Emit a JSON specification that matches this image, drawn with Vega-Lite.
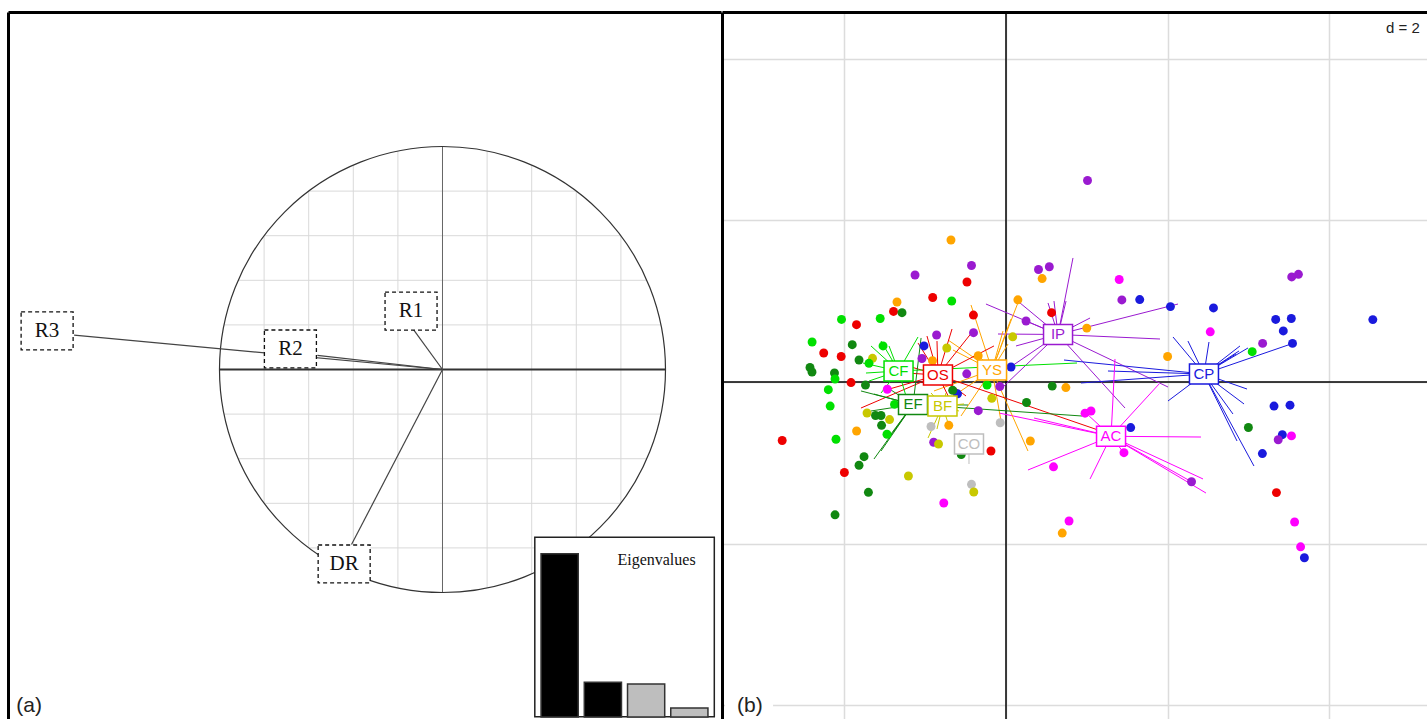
{
  "$schema": "https://vega.github.io/schema/vega-lite/v6.json",
  "padding": {"left": 8, "top": 11, "right": 0, "bottom": 0},
  "spacing": 0,
  "background": "white",
  "config": {
    "view": {"stroke": null},
    "axis": {"domain": true, "domainColor": "black", "domainWidth": 3, "ticks": false, "labels": false, "grid": false}
  },
  "resolve": {"scale": {"color": "independent", "stroke": "independent"}},
  "datasets": {
    "grid": [
      {"at": -0.8, "lo": -0.6, "hi": 0.6},
      {"at": -0.6, "lo": -0.8, "hi": 0.8},
      {"at": -0.4, "lo": -0.9165, "hi": 0.9165},
      {"at": -0.2, "lo": -0.9798, "hi": 0.9798},
      {"at": 0.2, "lo": -0.9798, "hi": 0.9798},
      {"at": 0.4, "lo": -0.9165, "hi": 0.9165},
      {"at": 0.6, "lo": -0.8, "hi": 0.8},
      {"at": 0.8, "lo": -0.6, "hi": 0.6}
    ],
    "vars": [
      {"var": "R1", "x": -0.130, "y": 0.179, "lx": -0.141, "ly": 0.262},
      {"var": "R2", "x": -0.561, "y": 0.063, "lx": -0.682, "ly": 0.092},
      {"var": "R3", "x": -1.652, "y": 0.154, "lx": -1.773, "ly": 0.173},
      {"var": "DR", "x": -0.408, "y": -0.785, "lx": -0.441, "ly": -0.872}
    ],
    "eigen": [
      {"axis": 1, "eig": 2.72, "kept": "yes"},
      {"axis": 2, "eig": 0.58, "kept": "yes"},
      {"axis": 3, "eig": 0.55, "kept": "no"},
      {"axis": 4, "eig": 0.15, "kept": "no"}
    ],
    "centroids": [
      {"grp": "CF", "x": -1.330, "y": 0.136},
      {"grp": "OS", "x": -0.842, "y": 0.087},
      {"grp": "YS", "x": -0.173, "y": 0.149},
      {"grp": "EF", "x": -1.151, "y": -0.278},
      {"grp": "BF", "x": -0.786, "y": -0.297},
      {"grp": "CO", "x": -0.458, "y": -0.767},
      {"grp": "IP", "x": 0.644, "y": 0.588},
      {"grp": "CP", "x": 2.450, "y": 0.099},
      {"grp": "AC", "x": 1.300, "y": -0.672}
    ],
    "stars": [
      {"grp": "IP", "x": 0.829, "y": 1.535}, {"grp": "IP", "x": 0.594, "y": 1.002}, {"grp": "IP", "x": 0.520, "y": 0.978},
      {"grp": "IP", "x": 0.099, "y": 1.040}, {"grp": "IP", "x": -0.248, "y": 0.965}, {"grp": "IP", "x": -0.099, "y": 0.594},
      {"grp": "IP", "x": 0.037, "y": 0.173}, {"grp": "IP", "x": -0.025, "y": -0.050}, {"grp": "IP", "x": 2.129, "y": 0.965},
      {"grp": "IP", "x": 1.040, "y": 0.792}, {"grp": "IP", "x": 1.906, "y": 0.532}, {"grp": "IP", "x": 2.005, "y": -0.062},
      {"grp": "IP", "x": 1.473, "y": -0.322}, {"grp": "IP", "x": 0.124, "y": 0.446}, {"grp": "IP", "x": 0.248, "y": 0.755},
      {"grp": "IP", "x": 0.743, "y": 1.002},
      {"grp": "CP", "x": 2.067, "y": 0.557}, {"grp": "CP", "x": 2.252, "y": 0.507}, {"grp": "CP", "x": 2.512, "y": 0.495},
      {"grp": "CP", "x": 2.995, "y": 0.421}, {"grp": "CP", "x": 2.896, "y": 0.446}, {"grp": "CP", "x": 2.884, "y": 0.384},
      {"grp": "CP", "x": 2.847, "y": 0.347}, {"grp": "CP", "x": 3.527, "y": 0.470}, {"grp": "CP", "x": 0.718, "y": 0.272},
      {"grp": "CP", "x": 1.262, "y": 0.136}, {"grp": "CP", "x": 0.928, "y": -0.012}, {"grp": "CP", "x": 2.005, "y": -0.235},
      {"grp": "CP", "x": 2.983, "y": -0.087}, {"grp": "CP", "x": 2.946, "y": -0.272}, {"grp": "CP", "x": 2.809, "y": -0.396},
      {"grp": "CP", "x": 3.069, "y": -1.040}, {"grp": "CP", "x": 2.859, "y": -0.730},
      {"grp": "AC", "x": 1.349, "y": 0.285}, {"grp": "AC", "x": 1.894, "y": -0.025}, {"grp": "AC", "x": 2.413, "y": -0.681},
      {"grp": "AC", "x": 2.438, "y": -1.200}, {"grp": "AC", "x": 2.475, "y": -1.374}, {"grp": "AC", "x": 2.302, "y": -1.238},
      {"grp": "AC", "x": 1.040, "y": -1.200}, {"grp": "AC", "x": 0.272, "y": -1.089}, {"grp": "AC", "x": -0.087, "y": -0.384},
      {"grp": "AC", "x": 0.347, "y": -0.446}, {"grp": "AC", "x": 0.990, "y": -0.384}, {"grp": "AC", "x": 1.460, "y": -0.879},
      {"grp": "YS", "x": -0.433, "y": 0.953}, {"grp": "YS", "x": -0.718, "y": 0.520}, {"grp": "YS", "x": -0.656, "y": 0.396},
      {"grp": "YS", "x": 0.025, "y": 0.470}, {"grp": "YS", "x": 0.272, "y": -0.854}, {"grp": "YS", "x": 0.062, "y": 0.780},
      {"grp": "YS", "x": -0.037, "y": 0.631}, {"grp": "YS", "x": -0.891, "y": -0.111}, {"grp": "YS", "x": -0.743, "y": -0.235},
      {"grp": "YS", "x": -0.557, "y": -0.421}, {"grp": "YS", "x": -0.334, "y": 0.322}, {"grp": "YS", "x": 0.161, "y": 1.015},
      {"grp": "YS", "x": -0.062, "y": -0.483},
      {"grp": "OS", "x": -0.668, "y": 0.656}, {"grp": "OS", "x": -0.854, "y": 0.507}, {"grp": "OS", "x": -1.089, "y": 0.483},
      {"grp": "OS", "x": -0.978, "y": 0.569}, {"grp": "OS", "x": -1.795, "y": -0.322}, {"grp": "OS", "x": -1.485, "y": -0.099},
      {"grp": "OS", "x": -0.149, "y": 0.446}, {"grp": "OS", "x": 1.139, "y": -0.594}, {"grp": "OS", "x": -0.644, "y": -0.322},
      {"grp": "OS", "x": -0.495, "y": -0.173}, {"grp": "OS", "x": -1.238, "y": 0.111}, {"grp": "OS", "x": -1.423, "y": 0.260},
      {"grp": "OS", "x": -0.408, "y": 0.631},
      {"grp": "CF", "x": -1.671, "y": 0.446}, {"grp": "CF", "x": -1.448, "y": 0.446}, {"grp": "CF", "x": -1.089, "y": 0.557},
      {"grp": "CF", "x": -1.733, "y": 0.111}, {"grp": "CF", "x": -1.696, "y": 0.012}, {"grp": "CF", "x": -1.547, "y": -0.136},
      {"grp": "CF", "x": 0.879, "y": 0.235}, {"grp": "CF", "x": -1.238, "y": -0.173}, {"grp": "CF", "x": -1.770, "y": 0.235},
      {"grp": "CF", "x": -1.547, "y": 0.507},
      {"grp": "EF", "x": -1.634, "y": -0.953}, {"grp": "EF", "x": -1.547, "y": -0.854}, {"grp": "EF", "x": -1.460, "y": -0.693},
      {"grp": "EF", "x": -1.386, "y": -0.606}, {"grp": "EF", "x": -1.795, "y": -0.111}, {"grp": "EF", "x": -1.634, "y": -0.149},
      {"grp": "EF", "x": -0.470, "y": -0.285}, {"grp": "EF", "x": 0.941, "y": -0.421}, {"grp": "EF", "x": -1.051, "y": 0.545},
      {"grp": "EF", "x": -1.671, "y": -0.359}, {"grp": "EF", "x": -1.498, "y": -0.050},
      {"grp": "BF", "x": -0.965, "y": -0.693}, {"grp": "BF", "x": -0.854, "y": -0.582}, {"grp": "BF", "x": -0.705, "y": -0.545},
      {"grp": "BF", "x": -0.520, "y": -0.272}, {"grp": "BF", "x": -0.582, "y": -0.359}, {"grp": "BF", "x": -0.928, "y": -0.136},
      {"grp": "BF", "x": -0.743, "y": -0.136},
      {"grp": "CO", "x": -0.458, "y": -1.015}, {"grp": "CO", "x": -0.582, "y": -0.631}
    ],
    "points": [
      {"grp": "IP", "x": 1.009, "y": 2.494}, {"grp": "YS", "x": -0.681, "y": 1.757}, {"grp": "IP", "x": -0.427, "y": 1.442},
      {"grp": "IP", "x": -1.126, "y": 1.324}, {"grp": "OS", "x": -0.483, "y": 1.238}, {"grp": "OS", "x": -0.907, "y": 1.046},
      {"grp": "CF", "x": -0.672, "y": 1.002}, {"grp": "YS", "x": -1.349, "y": 0.990}, {"grp": "OS", "x": -1.392, "y": 0.873},
      {"grp": "EF", "x": -1.287, "y": 0.858}, {"grp": "CF", "x": -2.036, "y": 0.774}, {"grp": "OS", "x": -1.850, "y": 0.709},
      {"grp": "CF", "x": -1.557, "y": 0.786}, {"grp": "OS", "x": -0.403, "y": 0.828}, {"grp": "IP", "x": -0.402, "y": 0.610},
      {"grp": "IP", "x": -0.859, "y": 0.582}, {"grp": "CP", "x": -1.015, "y": 0.446}, {"grp": "IP", "x": -1.040, "y": 0.291},
      {"grp": "BF", "x": -0.733, "y": 0.421}, {"grp": "YS", "x": -0.344, "y": 0.325}, {"grp": "CF", "x": -2.400, "y": 0.495},
      {"grp": "OS", "x": -2.256, "y": 0.359}, {"grp": "OS", "x": -2.040, "y": 0.316}, {"grp": "EF", "x": -1.903, "y": 0.462},
      {"grp": "EF", "x": -1.819, "y": 0.272}, {"grp": "BF", "x": -1.652, "y": 0.293}, {"grp": "CF", "x": -1.696, "y": 0.231},
      {"grp": "CF", "x": -1.522, "y": 0.446}, {"grp": "EF", "x": -2.426, "y": 0.179}, {"grp": "EF", "x": -2.401, "y": 0.124},
      {"grp": "EF", "x": -2.123, "y": 0.111}, {"grp": "CF", "x": -2.116, "y": 0.037}, {"grp": "CF", "x": -2.199, "y": -0.095},
      {"grp": "OS", "x": -1.918, "y": -0.007}, {"grp": "EF", "x": -1.739, "y": -0.038}, {"grp": "CF", "x": -2.176, "y": -0.298},
      {"grp": "OS", "x": -2.770, "y": -0.724}, {"grp": "CF", "x": -2.104, "y": -0.709}, {"grp": "OS", "x": -2.000, "y": -1.120},
      {"grp": "EF", "x": -1.757, "y": -0.924}, {"grp": "EF", "x": -1.819, "y": -1.030}, {"grp": "EF", "x": -1.703, "y": -1.365},
      {"grp": "EF", "x": -2.116, "y": -1.644}, {"grp": "YS", "x": -1.849, "y": -0.606}, {"grp": "BF", "x": -1.720, "y": -0.384},
      {"grp": "EF", "x": -1.615, "y": -0.415}, {"grp": "EF", "x": -1.547, "y": -0.415}, {"grp": "EF", "x": -1.540, "y": -0.536},
      {"grp": "BF", "x": -1.441, "y": -0.465}, {"grp": "CF", "x": -1.473, "y": -0.647}, {"grp": "CF", "x": -1.380, "y": -0.277},
      {"grp": "AC", "x": -1.469, "y": -0.090}, {"grp": "BF", "x": -1.208, "y": -1.163}, {"grp": "AC", "x": -0.770, "y": -1.498},
      {"grp": "CO", "x": -0.427, "y": -1.266}, {"grp": "BF", "x": -0.399, "y": -1.361}, {"grp": "OS", "x": -0.186, "y": -0.854},
      {"grp": "CO", "x": -0.072, "y": -0.504}, {"grp": "EF", "x": -0.554, "y": -0.897}, {"grp": "IP", "x": -0.895, "y": -0.746},
      {"grp": "BF", "x": -0.835, "y": -0.767}, {"grp": "CO", "x": -0.928, "y": -0.551}, {"grp": "YS", "x": -0.708, "y": -0.536},
      {"grp": "IP", "x": -0.343, "y": -0.355}, {"grp": "BF", "x": -0.176, "y": -0.202}, {"grp": "CF", "x": -0.235, "y": -0.037},
      {"grp": "CP", "x": -0.600, "y": -0.146}, {"grp": "EF", "x": -0.660, "y": -0.103}, {"grp": "IP", "x": -0.486, "y": 0.101},
      {"grp": "CP", "x": 0.062, "y": 0.186}, {"grp": "IP", "x": -0.077, "y": -0.056}, {"grp": "EF", "x": 0.254, "y": -0.254},
      {"grp": "YS", "x": 0.301, "y": -0.730}, {"grp": "EF", "x": 0.572, "y": -0.051}, {"grp": "YS", "x": 0.741, "y": -0.069},
      {"grp": "BF", "x": 0.083, "y": 0.559}, {"grp": "YS", "x": 0.147, "y": 1.017}, {"grp": "IP", "x": 0.248, "y": 0.755},
      {"grp": "IP", "x": 0.402, "y": 1.392}, {"grp": "IP", "x": 0.536, "y": 1.426}, {"grp": "YS", "x": 0.447, "y": 1.280},
      {"grp": "OS", "x": 0.564, "y": 0.858}, {"grp": "YS", "x": 1.000, "y": 0.667}, {"grp": "AC", "x": 1.401, "y": 1.269},
      {"grp": "IP", "x": 1.434, "y": 1.016}, {"grp": "CP", "x": 1.655, "y": 1.020}, {"grp": "CP", "x": 2.035, "y": 0.933},
      {"grp": "CP", "x": 2.568, "y": 0.917}, {"grp": "AC", "x": 2.528, "y": 0.621}, {"grp": "YS", "x": 2.000, "y": 0.316},
      {"grp": "CF", "x": 3.047, "y": 0.375}, {"grp": "IP", "x": 3.176, "y": 0.478}, {"grp": "CP", "x": 3.338, "y": 0.774},
      {"grp": "CP", "x": 3.531, "y": 0.786}, {"grp": "CP", "x": 3.432, "y": 0.632}, {"grp": "CP", "x": 3.546, "y": 0.478},
      {"grp": "IP", "x": 3.536, "y": 1.300}, {"grp": "IP", "x": 3.619, "y": 1.333}, {"grp": "CP", "x": 4.540, "y": 0.772},
      {"grp": "CP", "x": 3.317, "y": -0.298}, {"grp": "CP", "x": 3.515, "y": -0.287}, {"grp": "EF", "x": 3.000, "y": -0.563},
      {"grp": "CP", "x": 3.420, "y": -0.652}, {"grp": "IP", "x": 3.369, "y": -0.715}, {"grp": "AC", "x": 3.533, "y": -0.667},
      {"grp": "CP", "x": 3.173, "y": -0.886}, {"grp": "OS", "x": 3.347, "y": -1.369}, {"grp": "AC", "x": 3.572, "y": -1.733},
      {"grp": "AC", "x": 3.646, "y": -2.040}, {"grp": "CP", "x": 3.693, "y": -2.175}, {"grp": "CP", "x": 1.543, "y": -0.564},
      {"grp": "AC", "x": 1.052, "y": -0.359}, {"grp": "AC", "x": 0.978, "y": -0.386}, {"grp": "AC", "x": 1.460, "y": -0.875},
      {"grp": "AC", "x": 0.588, "y": -1.050}, {"grp": "IP", "x": 2.296, "y": -1.235}, {"grp": "AC", "x": 0.780, "y": -1.720},
      {"grp": "YS", "x": 0.696, "y": -1.870}, {"grp": "YS", "x": -0.910, "y": 0.264}
    ]
  },
  "hconcat": [
    {
      "width": 713,
      "height": 708,
      "resolve": {"scale": {"x": "independent", "y": "independent"}},
      "layer": [
        {
          "layer": [
            {
              "data": {"name": "grid"},
              "mark": {"type": "rule", "color": "#d9d9d9", "strokeWidth": 1},
              "encoding": {
                "x": {"field": "at", "type": "quantitative", "title": null, "scale": {"domain": [-1.9484, 1.2489], "nice": false, "zero": false}, "axis": {"orient": "top"}},
                "y": {"field": "lo", "type": "quantitative", "title": null, "scale": {"domain": [-1.5717, 1.6031], "nice": false, "zero": false}, "axis": {"orient": "left"}},
                "y2": {"field": "hi"}
              }
            },
            {
              "data": {"name": "grid"},
              "mark": {"type": "rule", "color": "#d9d9d9", "strokeWidth": 1},
              "encoding": {
                "y": {"field": "at", "type": "quantitative", "title": null},
                "x": {"field": "lo", "type": "quantitative", "title": null},
                "x2": {"field": "hi"}
              }
            },
            {
              "data": {"values": [{}]},
              "mark": {"type": "rule", "color": "#333333", "strokeWidth": 2},
              "encoding": {"x": {"datum": -1, "type": "quantitative"}, "x2": {"datum": 1}, "y": {"datum": 0, "type": "quantitative"}}
            },
            {
              "data": {"values": [{}]},
              "mark": {"type": "rule", "color": "#666666", "strokeWidth": 1},
              "encoding": {"y": {"datum": -1, "type": "quantitative"}, "y2": {"datum": 1}, "x": {"datum": 0, "type": "quantitative"}}
            },
            {
              "data": {"values": [{}]},
              "mark": {"type": "point", "shape": "circle", "size": 198916, "filled": false, "stroke": "#333333", "strokeWidth": 1.2, "opacity": 1},
              "encoding": {"x": {"datum": 0, "type": "quantitative"}, "y": {"datum": 0, "type": "quantitative"}}
            },
            {
              "data": {"name": "vars"},
              "mark": {"type": "rule", "color": "#444444", "strokeWidth": 1.2},
              "encoding": {
                "x": {"field": "x", "type": "quantitative", "title": null},
                "y": {"field": "y", "type": "quantitative", "title": null},
                "x2": {"datum": 0},
                "y2": {"datum": 0}
              }
            },
            {
              "data": {"name": "vars"},
              "mark": {"type": "point", "shape": "M-1,-0.73H1V0.73H-1Z", "size": 2704, "filled": true, "fill": "white", "stroke": "#111111", "strokeWidth": 1.3, "strokeDash": [4, 3], "opacity": 1},
              "encoding": {
                "x": {"field": "lx", "type": "quantitative", "title": null},
                "y": {"field": "ly", "type": "quantitative", "title": null}
              }
            },
            {
              "data": {"name": "vars"},
              "mark": {"type": "text", "font": "Liberation Serif", "fontSize": 21, "color": "#111111", "baseline": "middle", "align": "center"},
              "encoding": {
                "x": {"field": "lx", "type": "quantitative", "title": null},
                "y": {"field": "ly", "type": "quantitative", "title": null},
                "text": {"field": "var"}
              }
            },
            {
              "data": {"values": [{}]},
              "mark": {"type": "text", "font": "Liberation Sans", "fontSize": 21, "color": "#222222", "baseline": "middle", "align": "center"},
              "encoding": {"x": {"datum": -1.854, "type": "quantitative"}, "y": {"datum": -1.509, "type": "quantitative"}, "text": {"value": "(a)"}}
            }
          ]
        },
        {
          "layer": [
            {
              "data": {"values": [{}]},
              "mark": {"type": "point", "shape": "square", "size": 32220, "filled": true, "fill": "white", "stroke": "#222222", "strokeWidth": 1.5, "opacity": 1},
              "encoding": {
                "x": {"datum": 3, "type": "ordinal", "bandPosition": -0.08, "scale": {"domain": [1, 2, 3, 4], "range": [527, 706], "paddingInner": 0.14, "paddingOuter": 0.14}, "axis": null},
                "y": {"datum": 1.5, "type": "quantitative", "scale": {"domain": [0, 3], "range": [705, 525], "nice": false}, "axis": null}
              }
            },
            {
              "data": {"name": "eigen"},
              "mark": {"type": "bar", "stroke": "#333333", "strokeWidth": 1.5},
              "encoding": {
                "x": {"field": "axis", "type": "ordinal", "axis": null},
                "y": {"field": "eig", "type": "quantitative", "axis": null},
                "color": {"field": "kept", "type": "nominal", "scale": {"domain": ["yes", "no"], "range": ["#000000", "#bebebe"]}, "legend": null}
              }
            },
            {
              "data": {"values": [{}]},
              "mark": {"type": "text", "font": "Liberation Serif", "fontSize": 16, "color": "#111111", "align": "center", "baseline": "middle"},
              "encoding": {
                "x": {"datum": 3, "type": "ordinal", "bandPosition": 0.78},
                "y": {"datum": 2.625, "type": "quantitative"},
                "text": {"value": "Eigenvalues"}
              }
            }
          ]
        }
      ]
    },
    {
      "width": 706,
      "height": 708,
      "layer": [
        {
          "data": {"values": [{}]},
          "mark": {"type": "rule", "color": "#000000", "strokeWidth": 1.5},
          "encoding": {
            "x": {"datum": 0, "type": "quantitative", "scale": {"domain": [-3.5149, 5.2228], "nice": false, "zero": false}, "axis": {"orient": "top", "grid": true, "values": [-2, 0, 2, 4], "gridColor": "#dcdcdc", "gridWidth": 1.5}}
          }
        },
        {
          "data": {"values": [{}]},
          "mark": {"type": "rule", "color": "#000000", "strokeWidth": 1.5},
          "encoding": {
            "y": {"datum": 0, "type": "quantitative", "scale": {"domain": [-4.1832, 4.5792], "nice": false, "zero": false}, "axis": {"orient": "left", "grid": true, "values": [-4, -2, 0, 2, 4], "gridColor": "#dcdcdc", "gridWidth": 1.5}}
          }
        },
        {
          "data": {"name": "stars"},
          "transform": [{"lookup": "grp", "from": {"data": {"name": "centroids"}, "key": "grp", "fields": ["x", "y"]}, "as": ["cx", "cy"]}],
          "mark": {"type": "rule", "strokeWidth": 1},
          "encoding": {
            "x": {"field": "cx", "type": "quantitative", "title": null},
            "y": {"field": "cy", "type": "quantitative", "title": null},
            "x2": {"field": "x"},
            "y2": {"field": "y"},
            "color": {"field": "grp", "type": "nominal", "legend": null, "scale": {"domain": ["CF", "OS", "YS", "EF", "BF", "CO", "IP", "CP", "AC"], "range": ["#00e000", "#ee0000", "#ffa500", "#118811", "#c8c800", "#bebebe", "#9a1ad0", "#1a1add", "#ff00ff"]}}
          }
        },
        {
          "data": {"name": "points"},
          "mark": {"type": "circle", "size": 80, "opacity": 1},
          "encoding": {
            "x": {"field": "x", "type": "quantitative", "title": null},
            "y": {"field": "y", "type": "quantitative", "title": null},
            "color": {"field": "grp", "type": "nominal", "legend": null}
          }
        },
        {
          "data": {"name": "centroids"},
          "mark": {"type": "point", "shape": "M-1,-0.69H1V0.69H-1Z", "size": 841, "filled": true, "fill": "white", "strokeWidth": 1.5, "opacity": 1},
          "encoding": {
            "x": {"field": "x", "type": "quantitative", "title": null},
            "y": {"field": "y", "type": "quantitative", "title": null},
            "stroke": {"field": "grp", "type": "nominal", "legend": null, "scale": {"domain": ["CF", "OS", "YS", "EF", "BF", "CO", "IP", "CP", "AC"], "range": ["#00e000", "#ee0000", "#ffa500", "#118811", "#c8c800", "#bebebe", "#9a1ad0", "#1a1add", "#ff00ff"]}}
          }
        },
        {
          "data": {"name": "centroids"},
          "mark": {"type": "text", "font": "Liberation Sans", "fontSize": 15, "baseline": "middle", "align": "center"},
          "encoding": {
            "x": {"field": "x", "type": "quantitative", "title": null},
            "y": {"field": "y", "type": "quantitative", "title": null},
            "text": {"field": "grp"},
            "color": {"field": "grp", "type": "nominal", "legend": null}
          }
        },
        {
          "data": {"values": [{}]},
          "mark": {"type": "point", "shape": "square", "size": 2304, "filled": true, "fill": "white", "strokeWidth": 0, "opacity": 1},
          "encoding": {"x": {"datum": -3.18, "type": "quantitative"}, "y": {"datum": -4.0, "type": "quantitative"}}
        },
        {
          "data": {"values": [{}]},
          "mark": {"type": "text", "font": "Liberation Sans", "fontSize": 21, "color": "#222222", "baseline": "middle", "align": "center"},
          "encoding": {"x": {"datum": -3.17, "type": "quantitative"}, "y": {"datum": -4.01, "type": "quantitative"}, "text": {"value": "(b)"}}
        },
        {
          "data": {"values": [{}]},
          "mark": {"type": "text", "font": "Liberation Sans", "fontSize": 15, "color": "#222222", "baseline": "middle", "align": "left"},
          "encoding": {"x": {"datum": 4.703, "type": "quantitative"}, "y": {"datum": 4.381, "type": "quantitative"}, "text": {"value": "d = 2"}}
        }
      ]
    }
  ]
}
